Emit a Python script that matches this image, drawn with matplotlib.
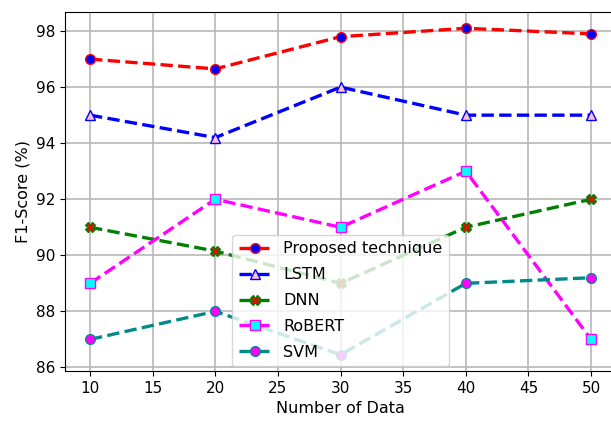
import matplotlib
matplotlib.use("Agg")
import matplotlib.pyplot as plt

data_sizes = [10, 20, 30, 40, 50]
proposed = [97.0, 96.65, 97.8, 98.1, 97.9]
lstm = [95.0, 94.2, 96.0, 95.0, 95.0]
dnn = [91.0, 90.15, 89.0, 91.0, 92.0]
robert = [89.0, 92.0, 91.0, 93.0, 87.0]
svm = [87.0, 88.0, 86.45, 89.0, 89.2]

plt.rcParams['font.size'] = 11.5

fig = plt.figure(figsize=(6.11, 4.23), dpi=100)
ax = fig.add_axes([0.1064, 0.1228, 0.9020, 0.8488])

lw = 2.4
ms = 7
ax.plot(data_sizes, proposed, '--', color='red', lw=lw, marker='o', ms=ms,
        markerfacecolor='blue', markeredgecolor='red', label='Proposed technique')
ax.plot(data_sizes, lstm, '--', color='blue', lw=lw, marker='^', ms=ms,
        markerfacecolor='pink', markeredgecolor='blue', label='LSTM')
ax.plot(data_sizes, dnn, '--', color='green', lw=lw, marker='X', ms=ms,
        markerfacecolor='red', markeredgecolor='green', label='DNN')
ax.plot(data_sizes, robert, '--', color='magenta', lw=lw, marker='s', ms=ms,
        markerfacecolor='cyan', markeredgecolor='magenta', label='RoBERT')
ax.plot(data_sizes, svm, '--', color='darkcyan', lw=lw, marker='o', ms=ms,
        markerfacecolor='magenta', markeredgecolor='darkcyan', label='SVM')

ax.set_xlim(8, 52)
ax.set_ylim(85.87, 98.68)
ax.set_xticks([10, 15, 20, 25, 30, 35, 40, 45, 50])
ax.set_yticks([86, 88, 90, 92, 94, 96, 98])
ax.tick_params(labelsize=11)
ax.grid(True, color='#b8b8b8', lw=1.2)
ax.set_xlabel('Number of Data')
ax.set_ylabel('F1-Score (%)')
ax.legend(loc='lower center', fontsize=11.5, borderaxespad=0.3, labelspacing=0.68)

fig.savefig('out.png', dpi=100)
